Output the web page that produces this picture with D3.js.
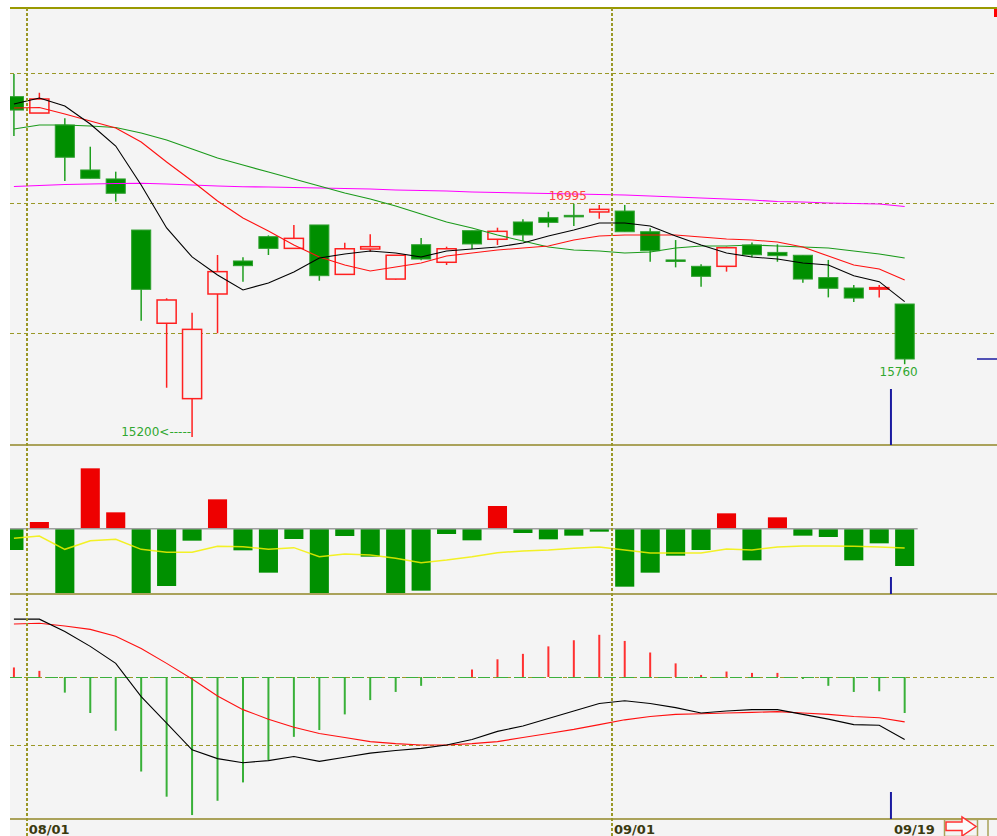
<!DOCTYPE html>
<html>
<head>
<meta charset="utf-8">
<script src="https://cdn.jsdelivr.net/npm/d3@7"></script>
<style>
  body { margin: 0; background: #fff; }
  svg { display: block; }
  text { font-family: "DejaVu Sans", sans-serif; }
</style>
</head>
<body>
<div id="chart"></div>
<script>
// trading days shown (07/29 .. 09/19)
const dates = ["07/29",
  "08/01","08/02","08/03","08/04","08/05","08/08","08/09","08/10","08/11","08/12",
  "08/15","08/16","08/17","08/18","08/19","08/22","08/23","08/24","08/25","08/26",
  "08/29","08/30","08/31",
  "09/01","09/02","09/05","09/06","09/07","09/08","09/09","09/10","09/12","09/13","09/14","09/19"];

const open  = [17818,17692,17600,17254,17185,16792,16075,15495,16300,16554,16741,16651,16831,16451,16646,16415,16679,16544,16787,16721,16854,16887,16905,16931,16938,16779,16562,16513,16513,16677,16620,16598,16426,16346,16341,16223];
const high  = [17992,17848,17651,17433,17241,16792,16267,16156,16600,16582,16751,16831,16831,16694,16759,16598,16731,16664,16787,16810,16875,16933,16995,16985,16985,16805,16715,16528,16664,16697,16682,16598,16562,16369,16369,16223];
const low   = [17515,17692,17169,17190,17010,16095,15579,15200,15998,16395,16600,16651,16402,16451,16626,16410,16560,16523,16646,16677,16708,16813,16823,16879,16779,16548,16505,16356,16472,16582,16548,16387,16274,16238,16274,15760];
const close = [17715,17800,17352,17190,17075,16336,16254,16028,16472,16518,16651,16728,16441,16648,16664,16598,16569,16648,16685,16782,16754,16851,16898,16951,16779,16633,16554,16436,16656,16602,16595,16415,16344,16269,16349,15800];

// moving averages
const ma5  = [17762,17808,17746,17608,17438,17138,16808,16585,16446,16331,16385,16469,16577,16608,16631,16615,16585,16631,16646,16662,16692,16746,16792,16846,16846,16823,16746,16677,16615,16585,16569,16538,16523,16441,16395,16241];
const ma10 = [17731,17735,17685,17631,17577,17469,17315,17169,17015,16885,16785,16677,16585,16523,16477,16508,16538,16592,16615,16638,16654,16669,16715,16746,16754,16754,16754,16738,16723,16715,16700,16662,16592,16523,16492,16408];
const ma20 = [17569,17600,17600,17592,17581,17538,17485,17415,17346,17292,17238,17185,17131,17077,17031,16977,16915,16854,16808,16754,16708,16662,16638,16631,16615,16623,16654,16669,16669,16677,16669,16662,16654,16631,16608,16577];
const ma60 = [17127,17135,17142,17146,17150,17152,17146,17138,17131,17125,17123,17119,17115,17112,17108,17100,17096,17092,17085,17081,17077,17073,17069,17065,17062,17054,17046,17038,17031,17023,17012,17008,17000,16996,16992,16973];

// middle panel: bars and their average line
const flow    = [-64,20,-225,181,49,-240,-172,-36,88,-65,-132,-31,-216,-22,-84,-210,-186,-16,-35,68,-13,-32,-21,-9,-174,-132,-81,-64,46,-95,34,-21,-25,-95,-44,-112];
const flowAvg = [-29,-22,-62,-36,-32,-62,-71,-71,-53,-54,-62,-57,-84,-76,-79,-89,-102,-94,-84,-72,-67,-64,-59,-55,-64,-73,-73,-73,-61,-64,-55,-52,-52,-53,-55,-58];

// MACD panel
const dif    = [85,85,67,45,20,-29,-68,-107,-120,-126,-123,-117,-124,-118,-112,-108,-105,-100,-92,-80,-72,-61,-50,-39,-35,-39,-45,-53,-50,-48,-48,-55,-62,-70,-71,-92];
const signal = [78,79,75,70,60,42,20,-3,-28,-48,-62,-74,-83,-89,-95,-98,-100,-100,-98,-95,-89,-83,-77,-70,-63,-58,-55,-54,-53,-52,-51,-53,-55,-58,-60,-66];
const osc    = [14,9,-23,-53,-79,-139,-176,-203,-182,-155,-122,-88,-78,-55,-34,-22,-13,-1,11,26,34,45,54,62,53,36,20,3,8,6,6,-3,-13,-22,-21,-53];

const tickLabels = ["08/01", "09/01", "09/19"];
const monthStarts = ["08/01", "09/01"];
const priceGrid = [16000, 17000, 18000];
const macdGrid = [0, -100];
const peakDate = "08/30";   // swing high marked on the chart

const W = 997, H = 836, left = 10;
const panels = [
  { top: 8, bottom: 445 },
  { top: 445, bottom: 594 },
  { top: 594, bottom: 819 }
];
const olive = "#9a9826";

const svg = d3.select("#chart").append("svg")
  .attr("width", W)
  .attr("height", H);

svg.append("rect").attr("width", W).attr("height", H).attr("fill", "#fff");
svg.append("rect")
  .attr("x", left).attr("y", 8)
  .attr("width", W - left).attr("height", H - 8)
  .attr("fill", "#f4f4f4");

const defs = svg.append("defs");
panels.forEach((p, i) => {
  defs.append("clipPath").attr("id", "clip" + i)
    .append("rect")
    .attr("x", left).attr("y", p.top)
    .attr("width", W - left).attr("height", p.bottom - p.top);
});

const x = d3.scaleBand()
  .domain(dates)
  .range([1.2, 1.2 + dates.length * 25.45])
  .paddingInner(0.25)
  .paddingOuter(0.125);
const bw = x.bandwidth();
const cx = d => x(d) + bw / 2;
const slotLeft = d => x(d) - (x.step() - bw) / 2;
const lastX = cx(dates[dates.length - 1]);

const yP = d3.scaleLinear().domain([15138.5, 18500]).range([445, 8]);
const yF = d3.scaleLinear().domain([-196, 251]).range([594, 445]);
const yM = d3.scaleLinear().domain([-208.8, 122]).range([819, 594]);

// ---------- price panel ----------
const g1 = svg.append("g").attr("clip-path", "url(#clip0)");

g1.selectAll(".grid")
  .data(priceGrid)
  .enter().append("line")
  .attr("x1", left).attr("x2", W)
  .attr("y1", d => Math.round(yP(d)) + 0.5).attr("y2", d => Math.round(yP(d)) + 0.5)
  .attr("stroke", olive).attr("stroke-width", 1)
  .attr("stroke-dasharray", "4,3");

const candles = dates.map((d, i) => ({ d, o: open[i], h: high[i], l: low[i], c: close[i] }));

g1.selectAll(".wick")
  .data(candles)
  .enter().append("line")
  .attr("x1", d => cx(d.d)).attr("x2", d => cx(d.d))
  .attr("y1", d => yP(d.h)).attr("y2", d => yP(d.l))
  .attr("stroke", d => d.c >= d.o ? "#ff2020" : "#1e9e1e")
  .attr("stroke-width", 1.5);

g1.selectAll(".body")
  .data(candles)
  .enter().append("rect")
  .attr("x", d => x(d.d))
  .attr("width", bw)
  .attr("y", d => yP(Math.max(d.o, d.c)))
  .attr("height", d => Math.max(1.5, Math.abs(yP(d.o) - yP(d.c))))
  .attr("fill", d => d.c >= d.o ? "#f4f4f4" : "#008f00")
  .attr("stroke", d => d.c >= d.o ? "#ff2020" : "#2ea02e")
  .attr("stroke-width", d => d.c >= d.o ? 1.5 : 1);

const maLine = d3.line()
  .x((v, i) => cx(dates[i]))
  .y(v => yP(v));

[[ma60, "#ff00ff"], [ma20, "#1a9a1a"], [ma10, "#ff1010"], [ma5, "#000"]].forEach(([s, col]) => {
  g1.append("path")
    .datum(s)
    .attr("fill", "none")
    .attr("stroke", col)
    .attr("stroke-width", 1.1)
    .attr("d", maLine);
});

// high / low markers
const iHigh = dates.indexOf(peakDate);
const iLow = low.indexOf(d3.min(low));
const iLast = dates.length - 1;

g1.append("text")
  .attr("x", cx(dates[iHigh]) - 6)
  .attr("y", yP(high[iHigh]) - 4)
  .attr("text-anchor", "middle")
  .style("font-size", "12px")
  .attr("fill", "#ff4040")
  .text(high[iHigh]);

g1.append("text")
  .attr("x", cx(dates[iLow]) - 1)
  .attr("y", yP(low[iLow]) - 1)
  .attr("text-anchor", "end")
  .style("font-size", "12px")
  .attr("fill", "#30a830")
  .text(low[iLow] + "<-----");

g1.append("text")
  .attr("x", cx(dates[iLast]) - 6)
  .attr("y", yP(low[iLast]) + 12)
  .attr("text-anchor", "middle")
  .style("font-size", "12px")
  .attr("fill", "#30a830")
  .text(low[iLast]);

// current price marker
g1.append("line")
  .attr("x1", 977).attr("x2", W)
  .attr("y1", yP(close[iLast])).attr("y2", yP(close[iLast]))
  .attr("stroke", "#1a1aa0").attr("stroke-width", 1.5);

// ---------- middle panel ----------
const g2 = svg.append("g").attr("clip-path", "url(#clip1)");

g2.selectAll(".bar")
  .data(flow)
  .enter().append("rect")
  .attr("x", (v, i) => x(dates[i]))
  .attr("width", bw)
  .attr("y", v => Math.min(yF(v), yF(0)))
  .attr("height", v => Math.abs(yF(v) - yF(0)))
  .attr("fill", v => v > 0 ? "#ee0000" : "#009000");

g2.append("line")
  .attr("x1", left).attr("x2", lastX + 13)
  .attr("y1", yF(0)).attr("y2", yF(0))
  .attr("stroke", "#a0a0a0").attr("stroke-width", 1.5);

g2.append("path")
  .datum(flowAvg)
  .attr("fill", "none")
  .attr("stroke", "#f2f000")
  .attr("stroke-opacity", 0.85)
  .attr("stroke-width", 1.5)
  .attr("d", d3.line().x((v, i) => cx(dates[i])).y(v => yF(v)));

// ---------- MACD panel ----------
const g3 = svg.append("g").attr("clip-path", "url(#clip2)");

g3.selectAll(".grid")
  .data(macdGrid)
  .enter().append("line")
  .attr("x1", left).attr("x2", W)
  .attr("y1", d => Math.round(yM(d)) + 0.5).attr("y2", d => Math.round(yM(d)) + 0.5)
  .attr("stroke", olive).attr("stroke-width", 1)
  .attr("stroke-dasharray", "4,3");

g3.append("line")
  .attr("x1", left).attr("x2", lastX)
  .attr("y1", Math.round(yM(0)) + 0.5).attr("y2", Math.round(yM(0)) + 0.5)
  .attr("stroke", "#3cb03c").attr("stroke-width", 1)
  .attr("stroke-dasharray", "12,6");

g3.selectAll(".osc")
  .data(osc)
  .enter().append("line")
  .attr("x1", (v, i) => cx(dates[i])).attr("x2", (v, i) => cx(dates[i]))
  .attr("y1", yM(0)).attr("y2", v => yM(v))
  .attr("stroke", v => v > 0 ? "#ff3030" : "#38b038")
  .attr("stroke-width", 2);

const macdLine = d3.line().x((v, i) => cx(dates[i])).y(v => yM(v));
[[signal, "#ff1010"], [dif, "#000"]].forEach(([s, col]) => {
  g3.append("path")
    .datum(s)
    .attr("fill", "none")
    .attr("stroke", col)
    .attr("stroke-width", 1.1)
    .attr("d", macdLine);
});

// ---------- frame, dividers, date axis ----------
svg.append("line")
  .attr("x1", left).attr("x2", W).attr("y1", 8).attr("y2", 8)
  .attr("stroke", "#999900").attr("stroke-width", 2);
[445, 594, 819].forEach(yv => {
  svg.append("line")
    .attr("x1", left).attr("x2", W).attr("y1", yv).attr("y2", yv)
    .attr("stroke", "#aaa25a").attr("stroke-width", 2);
});

svg.selectAll(".vgrid")
  .data(monthStarts)
  .enter().append("line")
  .attr("x1", d => Math.round(slotLeft(d))).attr("x2", d => Math.round(slotLeft(d)))
  .attr("y1", 8).attr("y2", 836)
  .attr("stroke", olive).attr("stroke-width", 2)
  .attr("stroke-dasharray", "3,2");

svg.selectAll(".tick")
  .data(tickLabels)
  .enter().append("text")
  .attr("x", d => slotLeft(d) + 2)
  .attr("y", 834)
  .style("font-size", "13px")
  .style("font-weight", "bold")
  .attr("fill", "#3a3a10")
  .text(d => d);

// cursor marker on the last day
const lastSlot = slotLeft(dates[iLast]) - 1;
[[389, 445], [577, 594], [792, 819]].forEach(([a, b]) => {
  svg.append("line")
    .attr("x1", lastSlot).attr("x2", lastSlot)
    .attr("y1", a).attr("y2", b)
    .attr("stroke", "#1a1aa0").attr("stroke-width", 2);
});

svg.append("rect")
  .attr("x", 994).attr("y", 9).attr("width", 3).attr("height", 8)
  .attr("fill", "#ff0000");

// scroll arrow box
svg.append("rect")
  .attr("x", 944.5).attr("y", 819.5).attr("width", 33).attr("height", 17)
  .attr("fill", "none").attr("stroke", "#aaa25a").attr("stroke-width", 1.5);
svg.append("line")
  .attr("x1", 988).attr("x2", 988).attr("y1", 819).attr("y2", 836)
  .attr("stroke", "#aaa25a").attr("stroke-width", 1.5);
svg.append("path")
  .attr("d", "M946,822 H962 V817 L976,826.5 L962,836 V830.5 H946 Z")
  .attr("fill", "#fafafa")
  .attr("stroke", "#ff3030")
  .attr("stroke-width", 1.5);
</script>
</body>
</html>
